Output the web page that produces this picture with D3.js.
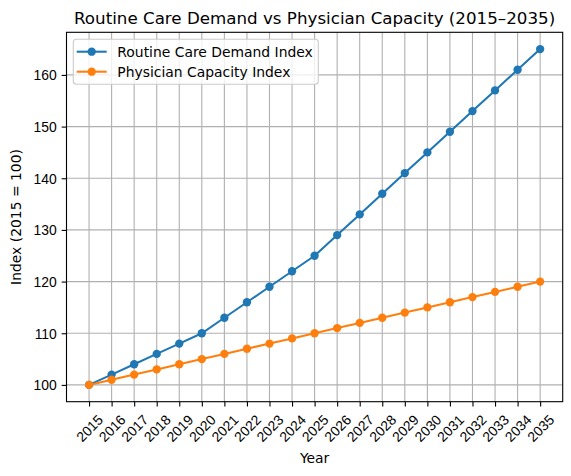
<!DOCTYPE html>
<html>
<head>
<meta charset="utf-8">
<script src="https://cdn.jsdelivr.net/npm/d3@7"></script>
<style>
  body { margin: 0; background: #fff; }
  svg { display: block; font-family: "DejaVu Sans", sans-serif; }
</style>
</head>
<body>
<svg id="chart" width="571" height="476"></svg>
<script>
const years = [2015,2016,2017,2018,2019,2020,2021,2022,2023,2024,2025,2026,2027,2028,2029,2030,2031,2032,2033,2034,2035];
const demand = [100,102,104,106,108,110,113,116,119,122,125,129,133,137,141,145,149,153,157,161,165];
const capacity = [100,101,102,103,104,105,106,107,108,109,110,111,112,113,114,115,116,117,118,119,120];
const yTicks = [100,110,120,130,140,150,160];
const seriesNames = ["Routine Care Demand Index", "Physician Capacity Index"];
const colors = ["#1f77b4", "#ff7f0e"];

const svg = d3.select("#chart");
const L = 66.5, R = 562.7, T = 32.3, B = 401.7;
const x = d3.scaleLinear().domain([2014, 2036]).range([L, R]);
const y = d3.scaleLinear().domain([96.75, 168.25]).range([B, T]);

// grid
const g = svg.append("g");
g.selectAll("line.vg").data(years).enter().append("line")
  .attr("x1", d => x(d)).attr("x2", d => x(d)).attr("y1", T).attr("y2", B)
  .attr("stroke", "#b0b0b0").attr("stroke-width", 1.1);
g.selectAll("line.hg").data(yTicks).enter().append("line")
  .attr("y1", d => y(d)).attr("y2", d => y(d)).attr("x1", L).attr("x2", R)
  .attr("stroke", "#b0b0b0").attr("stroke-width", 1.1);

// series
const data = [demand, capacity];
data.forEach((vals, i) => {
  const pts = years.map((yr, j) => [yr, vals[j]]);
  svg.append("path").datum(pts)
    .attr("d", d3.line().x(d => x(d[0])).y(d => y(d[1])))
    .attr("fill", "none").attr("stroke", colors[i]).attr("stroke-width", 2.08);
  svg.append("g").selectAll("circle").data(pts).enter().append("circle")
    .attr("cx", d => x(d[0])).attr("cy", d => y(d[1])).attr("r", 4.17)
    .attr("fill", colors[i]);
});

// spines
svg.append("rect").attr("x", L).attr("y", T).attr("width", R - L).attr("height", B - T)
  .attr("fill", "none").attr("stroke", "#000").attr("stroke-width", 1.1);

// x axis
const xa = svg.append("g").attr("transform", `translate(0,${B})`)
  .call(d3.axisBottom(x).tickValues(years).tickFormat(d3.format("d")).tickSize(4.86).tickPadding(0));
xa.select(".domain").remove();
xa.selectAll(".tick line").attr("stroke", "#000").attr("stroke-width", 1.1);
xa.selectAll(".tick text").each(function() {
  const t = d3.select(this);
  t.attr("y", null).attr("dy", null)
   .attr("font-size", "13.9px").attr("fill", "#000")
   .attr("text-anchor", "middle").attr("dominant-baseline", "central")
   .attr("transform", "translate(0,26.5) rotate(-45)");
});

// y axis
const ya = svg.append("g").attr("transform", `translate(${L},0)`)
  .call(d3.axisLeft(y).tickValues(yTicks).tickSize(4.86).tickPadding(4.86));
ya.select(".domain").remove();
ya.selectAll(".tick line").attr("stroke", "#000").attr("stroke-width", 1.1);
ya.selectAll(".tick text").attr("font-size", "13.9px").attr("fill", "#000")
  .attr("dy", "0.35em");

// title and labels
svg.append("text").attr("x", (L + R) / 2).attr("y", 23.5).attr("text-anchor", "middle")
  .attr("font-size", "16.7px").attr("fill", "#000")
  .text("Routine Care Demand vs Physician Capacity (2015–2035)");
svg.append("text").attr("x", (L + R) / 2).attr("y", 463).attr("text-anchor", "middle")
  .attr("font-size", "13.9px").attr("fill", "#000").text("Year");
svg.append("text").attr("transform", `translate(21,${(T + B) / 2}) rotate(-90)`)
  .attr("text-anchor", "middle").attr("font-size", "13.9px").attr("fill", "#000")
  .text("Index (2015 = 100)");

// legend
const lg = svg.append("g");
lg.append("rect").attr("x", 73.3).attr("y", 39.3).attr("width", 245).attr("height", 45)
  .attr("rx", 3).attr("fill", "#fff").attr("fill-opacity", 0.8)
  .attr("stroke", "#cccccc").attr("stroke-width", 1.1);
seriesNames.forEach((name, i) => {
  const cy = 51.7 + i * 20;
  lg.append("line").attr("x1", 76.7).attr("x2", 106.7).attr("y1", cy).attr("y2", cy)
    .attr("stroke", colors[i]).attr("stroke-width", 2.08);
  lg.append("circle").attr("cx", 91.7).attr("cy", cy).attr("r", 4.17).attr("fill", colors[i]);
  lg.append("text").attr("x", 117.3).attr("y", cy).attr("dy", "0.35em")
    .attr("font-size", "13.9px").attr("fill", "#000").text(name);
});
</script>
</body>
</html>
